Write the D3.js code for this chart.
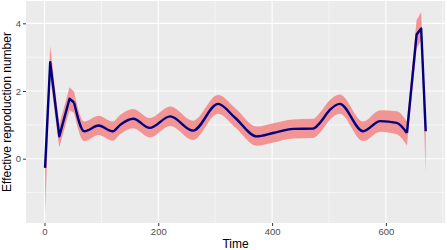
<!DOCTYPE html>
<html>
<head>
<meta charset="utf-8">
<script src="https://cdn.jsdelivr.net/npm/d3@7"></script>
<style>
body { margin: 0; background: #fff; }
svg text { font-family: "Liberation Sans", Arial, sans-serif; }
</style>
</head>
<body>
<div id="chart"></div>
<script>
var svgwidth = 447;
var svgheight = 250;
var margin = {top: 1, right: 2, bottom: 27, left: 26};
var width = svgwidth - margin.left - margin.right;
var height = svgheight - margin.top - margin.bottom;

// values
var times  = [1, 10, 26, 44, 52, 70, 95, 120, 133, 156, 185, 221, 261, 305, 335, 373, 402, 437, 472, 484, 502, 519, 560, 590, 619, 637, 654, 662, 670];
var rMean  = [-0.27, 2.85, 0.66, 1.77, 1.66, 0.81, 0.98, 0.81, 1.0, 1.18, 0.91, 1.25, 0.83, 1.62, 1.21, 0.66, 0.76, 0.88, 0.89, 1.06, 1.45, 1.62, 0.81, 1.11, 1.06, 0.76, 3.67, 3.85, 0.81];
var rLower = [-1.6, 2.4, 0.33, 1.43, 1.35, 0.52, 0.7, 0.53, 0.72, 0.9, 0.63, 0.97, 0.55, 1.33, 0.93, 0.38, 0.48, 0.6, 0.61, 0.77, 1.16, 1.33, 0.52, 0.8, 0.72, 0.39, 3.25, 3.5, -0.42];
var rUpper = [-0.15, 3.33, 1.0, 2.11, 1.98, 1.1, 1.27, 1.1, 1.29, 1.47, 1.2, 1.54, 1.12, 1.88, 1.5, 0.95, 1.05, 1.16, 1.18, 1.36, 1.74, 1.9, 1.1, 1.43, 1.4, 1.1, 4.1, 4.33, 0.9];
var xTicks = [0, 200, 400, 600];
var yTicks = [0, 2, 4];
var xMinor = [100, 300, 500, 700];
var yMinor = [-1, 1, 3];

var data = times.map(function(t, i) {
    return {t: t, r: rMean[i], lo: rLower[i], hi: rUpper[i]};
});
// sharp spikes at both ends, smooth in between
var pieces = [
    {rows: data.slice(0, 5), curve: d3.curveLinear},
    {rows: data.slice(4, 26), curve: d3.curveMonotoneX},
    {rows: data.slice(25), curve: d3.curveLinear}
];

var svg = d3.select("#chart").append("svg").attr("width", svgwidth).attr("height", svgheight);
var chartGroup = svg.append("g").attr("transform", "translate(" + margin.left + "," + margin.top + ")");

var xLinear = d3.scaleLinear().domain([-32.5, 703.9]).range([0, width]);
var yLinear = d3.scaleLinear().domain([-1.9, 4.66]).range([height, 0]);

// panel
chartGroup.append("rect").attr("width", width).attr("height", height).attr("fill", "#EBEBEB");

// grid
chartGroup.selectAll(".xminor").data(xMinor).enter().append("line")
    .attr("x1", d => xLinear(d)).attr("x2", d => xLinear(d))
    .attr("y1", 0).attr("y2", height)
    .attr("stroke", "#fff").attr("stroke-width", 0.55);
chartGroup.selectAll(".yminor").data(yMinor).enter().append("line")
    .attr("y1", d => yLinear(d)).attr("y2", d => yLinear(d))
    .attr("x1", 0).attr("x2", width)
    .attr("stroke", "#fff").attr("stroke-width", 0.55);
chartGroup.selectAll(".xmajor").data(xTicks).enter().append("line")
    .attr("x1", d => xLinear(d)).attr("x2", d => xLinear(d))
    .attr("y1", 0).attr("y2", height)
    .attr("stroke", "#fff").attr("stroke-width", 1.1);
chartGroup.selectAll(".ymajor").data(yTicks).enter().append("line")
    .attr("y1", d => yLinear(d)).attr("y2", d => yLinear(d))
    .attr("x1", 0).attr("x2", width)
    .attr("stroke", "#fff").attr("stroke-width", 1.1);

// ribbon and line
pieces.forEach(function(p) {
    var area = d3.area()
        .x(d => xLinear(d.t))
        .y0(d => yLinear(d.lo))
        .y1(d => yLinear(d.hi))
        .curve(p.curve);
    chartGroup.append("path").datum(p.rows).attr("d", area).attr("fill", "#F39494");
});
pieces.forEach(function(p) {
    var line = d3.line()
        .x(d => xLinear(d.t))
        .y(d => yLinear(d.r))
        .curve(p.curve);
    chartGroup.append("path").datum(p.rows).attr("d", line)
        .attr("fill", "none").attr("stroke", "#000080").attr("stroke-width", 2.4)
        .attr("stroke-linejoin", "round");
});

// axes
var bottomAxis = d3.axisBottom(xLinear).tickValues(xTicks).tickSize(3).tickPadding(2).tickFormat(d3.format("d"));
var leftAxis = d3.axisLeft(yLinear).tickValues(yTicks).tickSize(3).tickPadding(2).tickFormat(d3.format("d"));

var gx = chartGroup.append("g").attr("transform", "translate(0," + height + ")").call(bottomAxis);
var gy = chartGroup.append("g").call(leftAxis);
[gx, gy].forEach(function(g) {
    g.select(".domain").remove();
    g.selectAll(".tick line").attr("stroke", "#333");
    g.selectAll(".tick text").attr("fill", "#4D4D4D").attr("font-size", "9.5px");
});

// axis titles
svg.append("text")
    .attr("text-anchor", "middle")
    .attr("x", margin.left + width / 2)
    .attr("y", 248)
    .attr("font-size", "12px")
    .text("Time");

svg.append("text")
    .attr("text-anchor", "middle")
    .attr("transform", "translate(11," + (margin.top + height / 2) + ") rotate(-90)")
    .attr("font-size", "12px")
    .text("Effective reproduction number");
</script>
</body>
</html>
